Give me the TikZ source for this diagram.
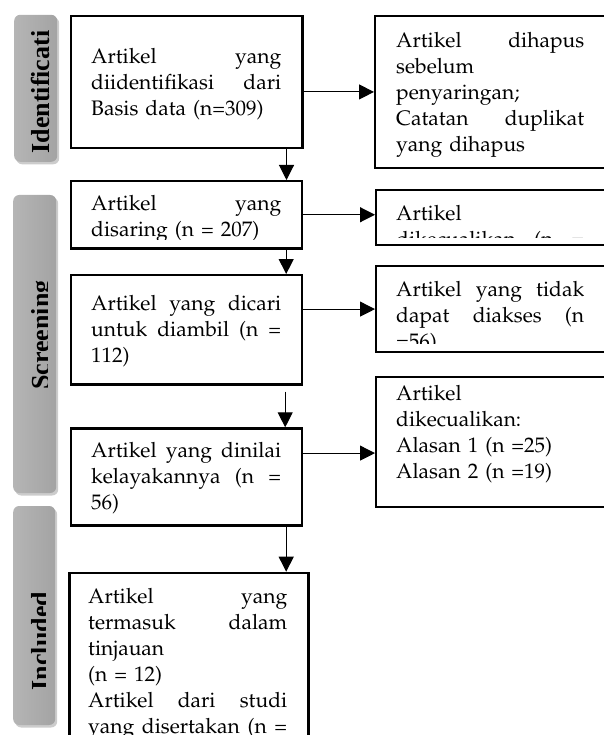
\documentclass[tikz,border=0pt]{standalone}
\usepackage[T1]{fontenc}
\usepackage{fontspec}
\newfontfamily\sidefont{Liberation Serif}
\usetikzlibrary{arrows.meta,calc,shadows}
\newcommand\palfont{\fontencoding{T1}\fontfamily{ppl}\selectfont}
\newlength\jw
\newcommand\jl[1]{\leavevmode\hbox to \jw{#1}}
\begin{document}
\begin{tikzpicture}[x=1pt,y=-1pt,
  box/.style={draw, line width=2.2pt, inner sep=0pt, anchor=north west},
  txt/.style={anchor=north west, inner sep=0pt, align=left, text width=#1,
    font=\palfont\fontsize{21}{26}\selectfont\setlength\jw{#1}},
  arr/.style={-{Triangle[length=15pt,width=15pt]}, line width=1.1pt},
  side/.style={rounded corners=6pt, left color=gray!58, right color=gray!72, drop shadow={shadow xshift=2pt,shadow yshift=-2.5pt,opacity=0.4}, inner sep=0pt},
  sidetxt/.style={rotate=90, anchor=base, inner sep=0pt, font=\sidefont\bfseries\fontsize{26}{30}\selectfont}]
\useasboundingbox (0,0) rectangle (604,735);
\clip (0,0) rectangle (604,735);
% side labels
\node[side, minimum width=43pt, minimum height=147pt] (s1) at (35.7,88.3) {};
\node[side, minimum width=43pt, minimum height=298pt] (s2) at (34.7,344) {};
\node[side, minimum width=42pt, minimum height=219pt] (s3) at (34.2,615.5) {};
\node[sidetxt] (l1) at (49,92) {Identificati};
\begin{scope}
\clip (0,190) rectangle (47,500);
\node[sidetxt] (l2) at (49,335) {Screening};
\end{scope}
\begin{scope}
\clip (0,500) rectangle (45,730);
\node[sidetxt] (l3) at (49,641) {Included};
\end{scope}
% boxes
\node[box, minimum width=231.3pt, minimum height=132pt] (b1) at (70,15.3) {};
\node[box, minimum width=231pt, minimum height=67.3pt] (b2) at (70,180) {};
\node[box, minimum width=231pt, minimum height=109.3pt] (b3) at (70,274) {};
\node[box, minimum width=231pt, minimum height=97pt] (b4) at (70,427.3) {};
\node[box, minimum width=239pt, minimum height=200pt] (b5) at (68.3,571.7) {};
\node[box, minimum width=250pt, minimum height=151.7pt] (r1) at (374,15) {};
\node[box, minimum width=250pt, minimum height=55pt] (r2) at (375,189) {};
\node[box, minimum width=250pt, minimum height=86pt] (r3) at (375,265) {};
\node[box, minimum width=250pt, minimum height=130pt] (r4) at (375,376) {};
% texts
\begin{scope}
\clip ($(b1.north west)+(2,2)$) rectangle ($(b1.south east)+(-2,-10)$);
\node[txt=190pt] (t1) at (91,45.5) {\strut\jl{Artikel\hfill yang}\\\jl{diidentifikasi\hfill dari}\\Basis data (n=309)};
\end{scope}
\begin{scope}
\clip ($(b2.north west)+(2,2)$) rectangle ($(b2.south east)+(-2,-10)$);
\node[txt=190pt] (t2) at (91,192) {\strut\jl{Artikel\hfill yang}\\disaring (n = 207)};
\end{scope}
\begin{scope}
\clip ($(b3.north west)+(2,2)$) rectangle ($(b3.south east)+(-2,-10)$);
\node[txt=190pt] (t3) at (91,292) {\strut\jl{Artikel\hfill yang\hfill dicari}\\\jl{untuk\hfill diambil\hfill (n\hfill =}\\112)};
\end{scope}
\begin{scope}
\clip ($(b4.north west)+(2,2)$) rectangle ($(b4.south east)+(-2,-10)$);
\node[txt=190pt] (t4) at (91,439) {\strut\jl{Artikel\hfill yang\hfill dinilai}\\\jl{kelayakannya\hfill (n\hfill =}\\56)};
\end{scope}
\begin{scope}
\clip ($(b5.north west)+(2,2)$) rectangle ($(b5.south east)+(-2,-10)$);
\node[txt=199pt] (t5) at (88,585) {\strut\jl{Artikel\hfill yang}\\\jl{termasuk\hfill dalam}\\tinjauan\\(n = 12)\\\jl{Artikel\hfill dari\hfill studi}\\\jl{yang\hfill disertakan\hfill (n\hfill =}};
\end{scope}
\begin{scope}
\clip ($(r1.north west)+(2,2)$) rectangle ($(r1.south east)+(-2,-10)$);
\node[txt=188pt] (u1) at (396,29) {\strut\jl{Artikel\hfill dihapus}\\sebelum\\penyaringan;\\\jl{Catatan\hfill duplikat}\\yang dihapus};
\end{scope}
\begin{scope}
\clip ($(r2.north west)+(2,2)$) rectangle ($(r2.south east)+(-2,-9)$);
\node[txt=188pt] (u2) at (396,202) {\strut Artikel\\\jl{dikecualikan\hfill (n\hfill =}};
\end{scope}
\begin{scope}
\clip ($(r3.north west)+(2,2)$) rectangle ($(r3.south east)+(-2,-9.5)$);
\node[txt=188pt] (u3) at (396,278.5) {\strut\jl{Artikel\hfill yang\hfill tidak}\\\jl{dapat\hfill diakses\hfill (n}\\=56)};
\end{scope}
\begin{scope}
\clip ($(r4.north west)+(2,2)$) rectangle ($(r4.south east)+(-2,-9)$);
\node[txt=188pt] (u4) at (396,382) {\strut Artikel\\dikecualikan:\\Alasan 1 (n =25)\\Alasan 2 (n =19)};
\end{scope}
% horizontal arrows
\draw[arr] (b1.east |- r1.west) -- (r1.west);
\draw[arr] (b2.east) -- (b2.east -| r2.west);
\draw[arr] (b3.east |- r3.west) -- (r3.west);
\coordinate (a4) at ($(r4.west)+(0,11)$);
\draw[arr] (b4.east |- a4) -- (a4);
% vertical arrows
\coordinate (v1) at ($(b1.south east)+(-17,0)$);
\draw[arr] (v1) -- (v1 |- b2.north);
\coordinate (v2) at ($(b2.south east)+(-17,0)$);
\draw[arr] (v2) -- (v2 |- b3.north);
\coordinate (v3) at ($(b3.south east)+(-18,6)$);
\draw[arr] (v3) -- (v3 |- b4.north);
\coordinate (v4) at ($(b4.south east)+(-17,0)$);
\draw[arr] (v4) -- (v4 |- b5.north);
\end{tikzpicture}
\end{document}
